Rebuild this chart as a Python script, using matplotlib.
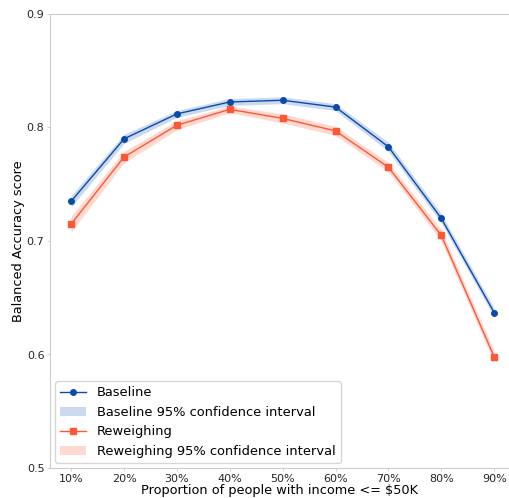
import numpy as np
import matplotlib
matplotlib.use('Agg')
import matplotlib.pyplot as plt

proportions = ['10%', '20%', '30%', '40%', '50%', '60%', '70%', '80%', '90%']
baseline = [0.735, 0.790, 0.812, 0.8225, 0.824, 0.818, 0.783, 0.720, 0.637]
baseline_ci = [0.005, 0.004, 0.003, 0.003, 0.003, 0.003, 0.004, 0.004, 0.004]
reweighing = [0.715, 0.774, 0.802, 0.816, 0.808, 0.797, 0.765, 0.705, 0.598]
reweighing_ci = [0.007, 0.005, 0.004, 0.003, 0.004, 0.004, 0.004, 0.005, 0.005]

blue = '#0a4aad'
red = '#ff5733'

x = np.arange(len(proportions))
b = np.array(baseline)
bc = np.array(baseline_ci)
r = np.array(reweighing)
rc = np.array(reweighing_ci)

fig = plt.figure(figsize=(5.1, 4.98), dpi=100)
ax = fig.add_axes([50 / 510, 30 / 498, 460 / 510, 454 / 498])

ax.plot(x, b, color=blue, marker='o', markersize=4, linewidth=1, label='Baseline')
ax.fill_between(x, b - bc, b + bc, color='#a9c0e4', alpha=0.6, linewidth=0,
                label='Baseline 95% confidence interval')
ax.plot(x, r, color=red, marker='s', markersize=4, linewidth=1, label='Reweighing')
ax.fill_between(x, r - rc, r + rc, color='#ffb3a3', alpha=0.5, linewidth=0,
                label='Reweighing 95% confidence interval')

ax.set_xticks(x)
ax.set_xticklabels(proportions)
ax.set_xlim(-0.4, 8.3)
ax.set_ylim(0.5, 0.9)
ax.set_yticks([0.5, 0.6, 0.7, 0.8, 0.9])
ax.tick_params(length=2.5, width=0.6, color='#cccccc', labelsize=8, labelcolor='#262626', pad=1.5)
for s in ax.spines.values():
    s.set_color('#cccccc')

ax.set_xlabel('Proportion of people with income <= $50K', fontsize=9.3, labelpad=0)
ax.set_ylabel('Balanced Accuracy score', fontsize=9.3, labelpad=1)
ax.legend(loc='lower left', fontsize=9.4, handlelength=2.0, borderaxespad=0.38)

fig.savefig('out.png', dpi=100)
